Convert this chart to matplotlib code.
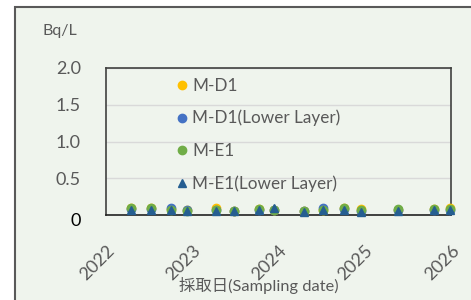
#!/usr/bin/env python3

import pandas
import matplotlib
matplotlib.use("Agg")
import matplotlib.pyplot as plt
import matplotlib.dates as mdates
from matplotlib.patches import Rectangle
from matplotlib.transforms import ScaledTranslation

# ------------------------------------------------------------------------
# Data:
# ------------------------------------------------------------------------

dates = ["2022-04-15", "2022-07-10", "2022-10-05", "2022-12-10",
         "2023-04-12", "2023-06-25", "2023-10-12", "2023-12-15",
         "2024-04-20", "2024-07-08", "2024-10-05", "2024-12-15",
         "2025-05-20", "2025-10-22", "2025-12-28"]

md1 = [0.09, 0.09, 0.08, 0.07, 0.10, 0.06, 0.08, 0.07,
       0.05, 0.07, 0.10, 0.08, 0.07, 0.08, 0.09]
md1_lower = [0.08, 0.08, 0.09, 0.07, 0.07, 0.06, 0.07, 0.07,
             0.05, 0.09, 0.08, 0.06, 0.07, 0.07, 0.07]
me1 = [0.09, 0.09, 0.07, 0.05, 0.07, 0.06, 0.08, 0.07,
       0.06, 0.07, 0.09, 0.07, 0.08, 0.08, 0.08]
me1_lower = [0.07, 0.07, 0.07, 0.05, 0.05, 0.06, 0.07, 0.09,
             0.04, 0.07, 0.07, 0.04, 0.06, 0.07, 0.07]

y_ticks = [0, 0.5, 1.0, 1.5, 2.0]
y_labels = ["0", "0.5", "1.0", "1.5", "2.0"]

series = [
  ("M-D1", md1, "o", "#FFC000"),
  ("M-D1(Lower Layer)", md1_lower, "o", "#4472C4"),
  ("M-E1", me1, "o", "#70AD47"),
  ("M-E1(Lower Layer)", me1_lower, "^", "#255E91"),
]

# ------------------------------------------------------------------------
# Plot:
# ------------------------------------------------------------------------

if __name__ == '__main__':

  plt.rcParams["font.family"] = ["Lato", "Noto Sans CJK JP", "DejaVu Sans"]

  bg = "#eff4ed"
  grey = "#595959"

  fig = plt.figure(figsize=(4.71, 3.0), dpi=100, facecolor="w")
  fig.patches.append(Rectangle((15 / 471, -0.1), 1.2, 1 - 7 / 300 + 0.1,
                               transform=fig.transFigure, facecolor=bg,
                               edgecolor=grey, linewidth=1.5, zorder=-10))

  ax = fig.add_axes([106 / 471, 85 / 300, 345 / 471, 147 / 300])
  ax.set_facecolor(bg)

  x = pandas.to_datetime(pandas.Series(dates))
  for name, values, marker, color in series:
    ax.plot(x, values, linestyle="none", marker=marker, markersize=6,
            color=color, label=name, clip_on=False, zorder=3)

  ax.set_xlim(pandas.Timestamp("2022-01-01"), pandas.Timestamp("2026-01-01"))
  ax.set_ylim(0, 2.0)
  ax.xaxis.set_major_locator(mdates.YearLocator())
  ax.xaxis.set_major_formatter(mdates.DateFormatter("%Y"))

  ax.set_yticks(y_ticks)
  ax.set_yticklabels(y_labels)
  ax.yaxis.grid(True, color="#d9d9d9", linewidth=1)
  ax.set_axisbelow(True)

  for side in ["left", "right", "top", "bottom"]:
    ax.spines[side].set_color("#404040")
    ax.spines[side].set_linewidth(1.2)
  ax.spines["bottom"].set_color("#222222")

  ax.tick_params(axis="y", length=0, pad=18, labelsize=13, labelcolor=grey)
  ax.tick_params(axis="x", length=0, pad=20, labelsize=13, labelcolor=grey)
  for lbl in ax.get_yticklabels():
    if lbl.get_text() == "0":
      lbl.set_color("black")
      lbl.set_transform(lbl.get_transform()
                        + ScaledTranslation(0, -5 / 100, fig.dpi_scale_trans))
  for lbl in ax.get_xticklabels():
    lbl.set_rotation(45)
    lbl.set_ha("right")
    lbl.set_rotation_mode("anchor")

  ax.set_xlabel("採取日(Sampling date)", fontsize=11.8, color=grey)
  ax.xaxis.set_label_coords(0.443, -0.42)
  fig.text(42 / 471, 1 - 31 / 300, "Bq/L", fontsize=11.5, color=grey,
           ha="left", va="center")

  leg = ax.legend(loc="upper left", bbox_to_anchor=(0.155, 1.027), frameon=False,
                  fontsize=12.3, labelcolor=grey, handletextpad=0.1,
                  labelspacing=0.95, handlelength=1.0, borderpad=0.3)

  fig.savefig("out.png", dpi=100, facecolor=fig.get_facecolor())
